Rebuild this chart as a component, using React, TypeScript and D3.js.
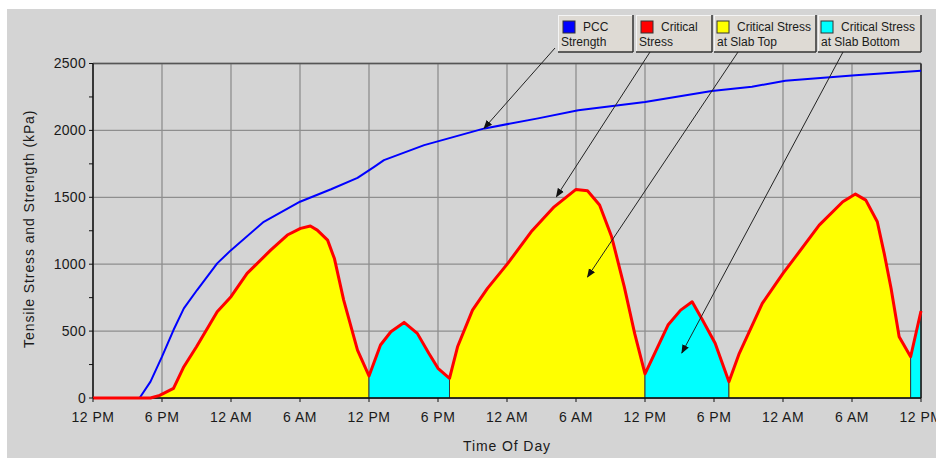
import React from "react";
import * as d3 from "d3";

// ---- data ----
const stressHours = [0, 5, 5.8, 7.0, 7.9, 9.0, 10.8, 12, 13.4, 15.45, 16.9, 18.05, 18.9, 19.5, 20.4, 21.0, 21.8, 23.0, 24.0,
  25.0, 25.9, 27.05, 28.2, 29.2, 30.0, 31.0,
  31.7, 33.0, 34.3, 36.07, 38.1, 40.1, 42.0, 43.0, 44.05, 45.1, 46.2, 47.1, 48.0,
  50.0, 51.1, 52.1, 53.0, 54.1, 55.3,
  56.2, 58.2, 59.1, 60.0, 61.1, 63.15, 65.2, 66.3, 67.2, 68.2, 68.8, 69.4, 70.1, 71.1,
  72];
const criticalStress = [0, 0, 20, 72, 234, 383, 645, 757, 931, 1105, 1218, 1268, 1285, 1255, 1180, 1040, 732, 358, 165,
  396, 495, 565, 483, 334, 222, 147,
  383, 657, 819, 1006, 1242, 1429, 1559, 1549, 1442, 1205, 831, 483, 180,
  545, 657, 719, 583, 409, 122,
  334, 707, 819, 931, 1056, 1292, 1467, 1524, 1479, 1317, 1081, 819, 458, 308,
  650];

const pccHours = [0, 4.05, 5.0, 6.0, 7.0, 7.9, 9.05, 10.8, 12.0, 14.85, 18.0, 20.7, 23.0, 24.45, 25.3, 28.8, 34.05, 38.7, 42.2, 48.0, 53.8, 57.3, 60.2, 66.3, 72];
const pccStrength = [0, 0, 122, 309, 508, 670, 807, 1006, 1105, 1317, 1467, 1560, 1645, 1728, 1778, 1890, 2015, 2090, 2151, 2213, 2294, 2326, 2371, 2413, 2445];

// stress location segments (hour boundaries)
const segmentEdges = [0, 24, 31, 48, 55.3, 71.1, 72];
const segmentTypes = ["top", "bottom", "top", "bottom", "top", "bottom"];

const xTickHours = [0, 6, 12, 18, 24, 30, 36, 42, 48, 54, 60, 66, 72];
const xTickLabels = ["12 PM", "6 PM", "12 AM", "6 AM", "12 PM", "6 PM", "12 AM", "6 AM", "12 PM", "6 PM", "12 AM", "6 AM", "12 PM"];
const yTicks = [0, 500, 1000, 1500, 2000, 2500];
const yMinorTicks = [250, 750, 1250, 1750, 2250];

const legendLine1 = ["PCC", "Critical", "Critical Stress", "Critical Stress"];
const legendLine2 = ["Strength", "Stress", "at Slab Top", "at Slab Bottom"];
const legendColors = ["#0000ff", "#ff0000", "#ffff00", "#00ffff"];
// arrow targets in data space (hour, kPa)
const arrowTargetHours = [34.0, 40.3, 43.0, 51.2];
const arrowTargetValues = [2015, 1505, 905, 336];

// ---- layout ----
const W = 936, H = 458;
const M = { left: 93, right: 921, top: 63.5, bottom: 398 };
const legendBoxX = [558, 636, 714, 818];
const legendBoxW = [75, 76, 102, 103];
const legendBoxY = 15, legendBoxH = 37;
const arrowStarts = [[555, 48], [650, 52], [738, 52], [843, 52]];

const FONT = "'Liberation Sans', Arial, sans-serif";

export default function App() {
  const x = d3.scaleLinear().domain([0, 72]).range([M.left, M.right]);
  const y = d3.scaleLinear().domain([0, 2500]).range([M.bottom, M.top]);

  const stressPts = stressHours.map((h, i) => [h, criticalStress[i]] as [number, number]);
  const pccPts = pccHours.map((h, i) => [h, pccStrength[i]] as [number, number]);

  const line = d3.line<[number, number]>().x(d => x(d[0])).y(d => y(d[1]));
  const area = d3.area<[number, number]>().x(d => x(d[0])).y0(y(0)).y1(d => y(d[1]));

  const segments = segmentTypes.map((t, i) => {
    const a = segmentEdges[i], b = segmentEdges[i + 1];
    const pts = stressPts.filter(p => p[0] >= a - 1e-6 && p[0] <= b + 1e-6);
    return { type: t, d: area(pts) as string };
  });

  const gridColor = "#8e8e8e";

  return (
    <div style={{ position: "absolute", left: 0, top: 0 }}>
      <svg width={W} height={H} style={{ display: "block" }}>
        <defs>
          <marker id="ah" viewBox="0 0 10 10" refX="9" refY="5" markerWidth="9" markerHeight="9" markerUnits="userSpaceOnUse" orient="auto">
            <path d="M0,1 L10,5 L0,9 Z" fill="#111" />
          </marker>
        </defs>
        <rect x={0} y={0} width={W} height={H} fill="#ffffff" />
        <rect x={7} y={9} width={W - 7} height={H - 9} fill="#d4d4d4" />

        {/* grid */}
        {xTickHours.map((h, i) => (
          <line key={"gx" + i} x1={x(h)} x2={x(h)} y1={M.top} y2={M.bottom} stroke={gridColor} strokeWidth={1.3} />
        ))}
        {yTicks.map((v, i) => (
          <line key={"gy" + i} x1={M.left} x2={M.right} y1={y(v)} y2={y(v)} stroke={gridColor} strokeWidth={1.3} />
        ))}

        {/* filled stress areas */}
        {segments.map((s, i) => (
          <path key={"seg" + i} d={s.d} fill={s.type === "top" ? "#ffff00" : "#00ffff"} stroke="#3a3a3a" strokeWidth={1} />
        ))}

        {/* plot border */}
        <line x1={M.left} x2={M.right} y1={M.top} y2={M.top} stroke="#555" strokeWidth={1.5} />
        <line x1={M.right} x2={M.right} y1={M.top} y2={M.bottom} stroke="#222" strokeWidth={1.5} />
        <line x1={M.left} x2={M.right} y1={M.bottom} y2={M.bottom} stroke="#111" strokeWidth={1.5} />
        <line x1={M.left} x2={M.left} y1={M.top} y2={M.bottom} stroke="#111" strokeWidth={1.5} />

        {/* lines */}
        <path d={line(pccPts) as string} fill="none" stroke="#0000ff" strokeWidth={2} strokeLinejoin="round" />
        <path d={line(stressPts) as string} fill="none" stroke="#ff0000" strokeWidth={3} strokeLinejoin="round" />

        {/* y ticks */}
        {yTicks.concat(yMinorTicks).map((v, i) => (
          <line key={"yt" + i} x1={M.left - 4} x2={M.left} y1={y(v)} y2={y(v)} stroke="#111" strokeWidth={1} />
        ))}
        {yTicks.map((v, i) => (
          <text key={"yl" + i} x={M.left - 7} y={y(v)} dy="0.35em" textAnchor="end" fontFamily={FONT} fontSize={14} fill="#1a1a1a" letterSpacing={0.3}>{v}</text>
        ))}
        {/* x ticks */}
        {xTickHours.map((h, i) => (
          <g key={"xt" + i}>
            <line x1={x(h)} x2={x(h)} y1={M.bottom} y2={M.bottom + 4} stroke="#111" strokeWidth={1} />
            <text x={x(h)} y={M.bottom + 24} textAnchor="middle" fontFamily={FONT} fontSize={14} fill="#1a1a1a" letterSpacing={0.5}>{xTickLabels[i]}</text>
          </g>
        ))}

        {/* axis titles */}
        <text x={(M.left + M.right) / 2} y={451} textAnchor="middle" fontFamily={FONT} fontSize={14} fill="#1a1a1a" letterSpacing={0.9}>Time Of Day</text>
        <text transform={`translate(34, ${(M.top + M.bottom) / 2 - 2}) rotate(-90)`} textAnchor="middle" fontFamily={FONT} fontSize={14} fill="#1a1a1a" letterSpacing={0.9}>Tensile Stress and Strength (kPa)</text>

        {/* legend boxes */}
        {legendLine1.map((t, i) => {
          const bx = legendBoxX[i], bw = legendBoxW[i];
          const sw = i < 2 ? 5 : 3;
          return (
            <g key={"lg" + i}>
              <rect x={bx} y={legendBoxY} width={bw} height={legendBoxH} fill="#dedad4" />
              <line x1={bx} x2={bx + bw} y1={legendBoxY + 0.5} y2={legendBoxY + 0.5} stroke="#f4f4f4" />
              <line x1={bx + 0.5} x2={bx + 0.5} y1={legendBoxY} y2={legendBoxY + legendBoxH} stroke="#f4f4f4" />
              <line x1={bx} x2={bx + bw} y1={legendBoxY + legendBoxH} y2={legendBoxY + legendBoxH} stroke="#333" strokeWidth={1.5} />
              <line x1={bx + bw} x2={bx + bw} y1={legendBoxY} y2={legendBoxY + legendBoxH} stroke="#333" strokeWidth={1.5} />
              <rect x={bx + sw} y={legendBoxY + 6} width={12} height={12} fill={legendColors[i]} stroke="#333" strokeWidth={1} />
              <text x={bx + sw + 20} y={legendBoxY + 16} fontFamily={FONT} fontSize={12} fill="#1a1a1a">{t}</text>
              <text x={bx + 3} y={legendBoxY + 31} fontFamily={FONT} fontSize={12} fill="#1a1a1a">{legendLine2[i]}</text>
            </g>
          );
        })}

        {/* arrows */}
        {arrowStarts.map((s, i) => (
          <line key={"ar" + i} x1={s[0]} y1={s[1]} x2={x(arrowTargetHours[i])} y2={y(arrowTargetValues[i])} stroke="#222" strokeWidth={1} markerEnd="url(#ah)" />
        ))}
      </svg>
    </div>
  );
}
